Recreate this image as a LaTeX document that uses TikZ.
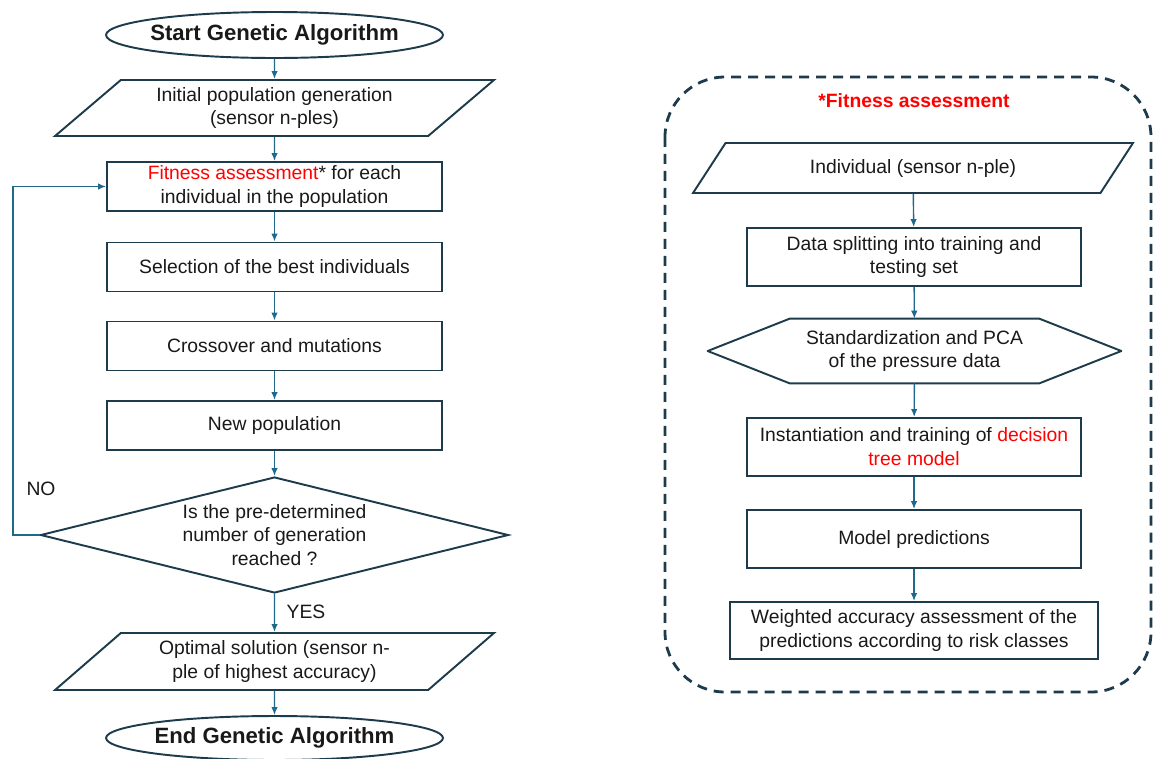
\documentclass[tikz,border=0pt]{standalone}
\usepackage{fontspec}
\setmainfont{Liberation Sans}
\usetikzlibrary{arrows.meta,shapes.geometric}
\definecolor{boxline}{HTML}{1D3B4B}
\definecolor{flowblue}{HTML}{1F6A8C}
\newcommand{\bodyfont}{\fontsize{11}{13.6}\selectfont}
\newcommand{\termfont}{\fontsize{12.6}{15}\selectfont\bfseries}

\begin{document}
\begin{tikzpicture}[x=0.02cm, y=-0.02cm,
	every node/.style={font=\bodyfont, text=black!90},
	>={Latex[length=1.6mm, width=1.3mm]},
	proc/.style={draw=boxline, line width=1.1pt, align=center, inner sep=0pt, minimum width=6.7cm, minimum height=0.98cm},
	term/.style={draw=boxline, line width=1.1pt, ellipse, inner xsep=-0.12cm, inner ysep=0pt, minimum width=6.74cm, minimum height=0.92cm, font=\termfont},
	iobox/.style={draw=boxline, line width=1.1pt, trapezium, trapezium left angle=32.5, trapezium right angle=147.5, trapezium stretches body, align=center, inner sep=0pt, minimum width=8.78cm, minimum height=1.12cm},
	decide/.style={draw=boxline, line width=1.1pt, diamond, aspect=4, align=center, inner sep=0pt, minimum width=9.36cm, minimum height=2.32cm},
	prep/.style={align=center, inner sep=0pt, minimum width=4.98cm, minimum height=1.28cm},
	flow/.style={->, draw=flowblue, line width=0.8pt}]
	\useasboundingbox (0,0) rectangle (1155,758);

	% genetic algorithm
	\node[term] (start) at (274.5,35) {Start Genetic Algorithm};
	\node[iobox] (init) at (274.5,108) {Initial population generation\\(sensor n-ples)};
	\node[proc] (fit) at (274.5,186.5) {\textcolor{red}{Fitness assessment}* for each\\individual in the population};
	\node[proc] (sel) at (274.5,267) {Selection of the best individuals};
	\node[proc] (cross) at (274.5,346) {Crossover and mutations};
	\node[proc] (newpop) at (274.5,425.5) {New population};
	\node[decide] (dec) at (274.5,535) {Is the pre-determined\\number of generation\\reached ?};
	\node[iobox, minimum height=1.14cm] (opt) at (274.5,661.5) {Optimal solution (sensor n-\\ple of highest accuracy)};
	\node[term, minimum height=0.88cm] (end) at (274.5,738) {End Genetic Algorithm};

	\draw[flow] (start) -- (init);
	\draw[flow] (init) -- (fit);
	\draw[flow] (fit) -- (sel);
	\draw[flow] (sel) -- (cross);
	\draw[flow] (cross) -- (newpop);
	\draw[flow] (newpop) -- (dec);
	\draw[flow] (dec) -- (opt);
	\draw[flow] (opt) -- (end);
	\coordinate (loopcorner) at (13,535);
	\draw[flow] (dec.west) -- (loopcorner) |- (fit.west);
	\node (nolab) at (41,489) {NO};
	\node (yeslab) at (306,612) {YES};

	% fitness assessment
	\draw[boxline, line width=1.6pt, dash pattern=on 0.2cm off 0.14cm, rounded corners=1.2cm] (665,77) rectangle (1151,692);
	\node[font=\bodyfont\bfseries, text=red] (fittitle) at (914,101) {*Fitness assessment};
	\node[iobox, trapezium left angle=29, trapezium right angle=151, minimum width=8.8cm, minimum height=1cm] (ind) at (913,168) {Individual (sensor n-ple)};
	\node[proc, minimum width=6.68cm, minimum height=1.16cm] (split) at (914,257) {Data splitting into training and\\testing set};
	\node[prep] (std) at (914.5,351) {Standardization and PCA\\of the pressure data};
	\draw[boxline, line width=1.1pt, line join=round] (std.north west) -- (std.north east) -- ([xshift=1.64cm]std.east) -- (std.south east) -- (std.south west) -- ([xshift=-1.64cm]std.west) -- cycle;
	\node[proc, minimum width=6.68cm, minimum height=1.16cm] (inst) at (914,447) {Instantiation and training of \textcolor{red}{decision}\\\textcolor{red}{tree model}};
	\node[proc, minimum width=6.68cm, minimum height=1.16cm] (pred) at (914,539) {Model predictions};
	\node[proc, minimum width=7.36cm, minimum height=1.14cm] (wacc) at (914,630.5) {Weighted accuracy assessment of the\\predictions according to risk classes};

	\foreach \a/\b in {ind/split, split/std, std/inst, inst/pred, pred/wacc}
		\draw[flow] (\a) -- (\b);
\end{tikzpicture}
\end{document}
